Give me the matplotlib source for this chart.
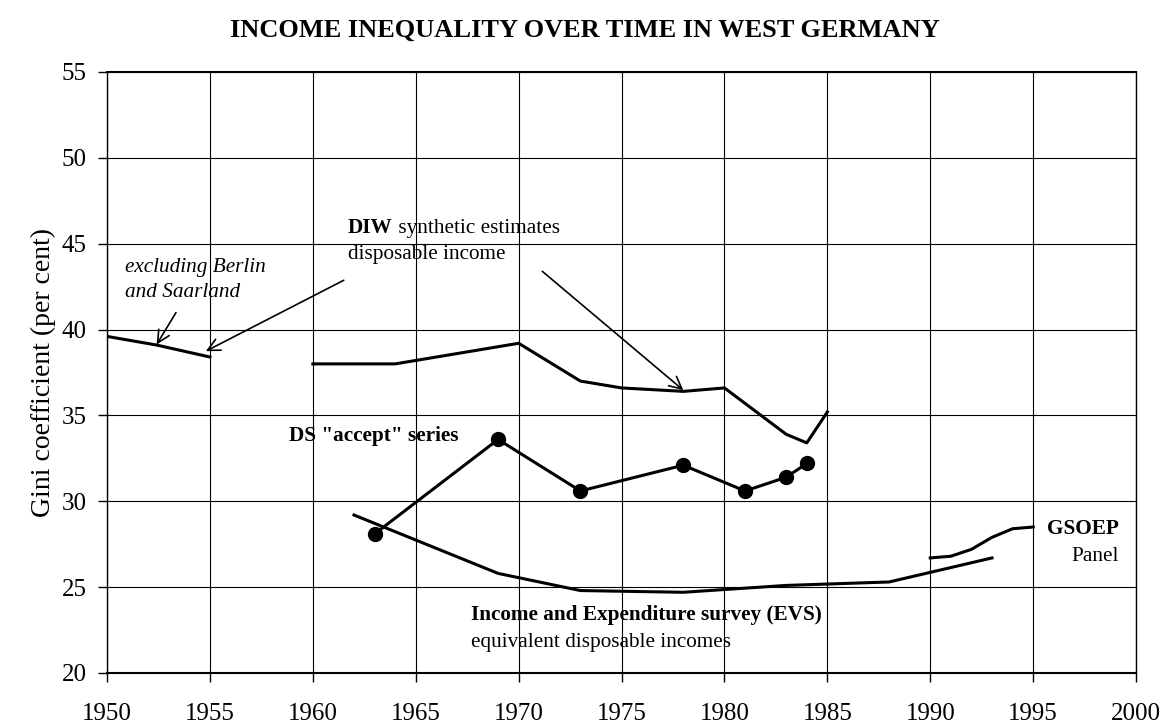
import matplotlib
matplotlib.use("Agg")
import matplotlib.pyplot as plt

plt.rcParams['font.family'] = ['Liberation Serif', 'DejaVu Serif']

# Data (Gini coefficient, per cent)
early_years = [1950, 1952.4, 1955]
early_gini = [39.6, 39.1, 38.4]

diw_years = [1960, 1964, 1968, 1970, 1973, 1975, 1978, 1980, 1983, 1984, 1985]
diw_gini = [38.0, 38.0, 38.8, 39.2, 37.0, 36.6, 36.4, 36.6, 33.9, 33.4, 35.2]

ds_years = [1963, 1969, 1973, 1978, 1981, 1983, 1984]
ds_gini = [28.1, 33.6, 30.6, 32.1, 30.6, 31.4, 32.2]

evs_years = [1962, 1969, 1973, 1978, 1983, 1988, 1993]
evs_gini = [29.2, 25.8, 24.8, 24.7, 25.1, 25.3, 26.7]

gsoep_years = [1990, 1991, 1992, 1993, 1994, 1995]
gsoep_gini = [26.7, 26.8, 27.2, 27.9, 28.4, 28.5]

x_ticks = list(range(1950, 2001, 5))
y_ticks = list(range(20, 56, 5))

fig = plt.figure(figsize=(11.7, 7.27), dpi=100)
ax = fig.add_axes([0.0915, 0.0743, 0.8795, 0.8267])

lw = 2.2
ax.plot(early_years, early_gini, color='black', lw=lw)
ax.plot(diw_years, diw_gini, color='black', lw=lw)
ax.plot(ds_years, ds_gini, color='black', lw=lw, marker='o', markersize=10)
ax.plot(evs_years, evs_gini, color='black', lw=lw)
ax.plot(gsoep_years, gsoep_gini, color='black', lw=lw)

ax.set_xlim(1950, 2000)
ax.set_ylim(20, 55)
ax.set_xticks(x_ticks)
ax.set_yticks(y_ticks)
ax.grid(True, color='black', lw=0.8)
ax.set_axisbelow(True)
for s in ax.spines.values():
    s.set_color('black')
    s.set_linewidth(1.0)
ax.spines['bottom'].set_linewidth(1.5)
ax.spines['top'].set_linewidth(1.5)
ax.tick_params(axis='both', direction='out', length=6.5, width=1.0, labelsize=18, colors='black')
ax.tick_params(axis='x', pad=15)
ax.tick_params(axis='y', pad=8)

ax.set_ylabel('Gini coefficient (per cent)', fontsize=20, labelpad=4)

fig.text(0.5, 0.959, 'INCOME INEQUALITY OVER TIME IN WEST GERMANY', ha='center', va='center',
         fontsize=19, fontweight='bold')

fs = 15.3
ax.text(1950.87, 42.88, 'excluding Berlin\nand Saarland', fontsize=fs, style='italic',
        ha='left', va='center', linespacing=1.45)
arrow = dict(arrowstyle='->', color='black', lw=1.2, mutation_scale=22, shrinkA=0, shrinkB=0)
ax.annotate('', xy=(1952.41, 39.13), xytext=(1953.35, 40.99), arrowprops=arrow)
ax.annotate('', xy=(1954.8, 38.74), xytext=(1961.5, 42.87), arrowprops=arrow)
ax.annotate('', xy=(1978.0, 36.47), xytext=(1971.15, 43.39), arrowprops=arrow)

diw = ax.text(1961.7, 45.93, 'DIW', fontsize=fs, fontweight='bold', ha='left', va='center')
ax.annotate(' synthetic estimates', xy=(1, 0), xycoords=diw, xytext=(0, 0),
            textcoords='offset points', fontsize=fs, ha='left', va='bottom')
ax.text(1961.7, 44.36, 'disposable income', fontsize=fs, ha='left', va='center')

ax.text(1958.83, 33.78, 'DS "accept" series', fontsize=fs, fontweight='bold', ha='left', va='center')

ax.text(1967.67, 23.39, 'Income and Expenditure survey (EVS)', fontsize=fs, fontweight='bold',
        ha='left', va='center')
ax.text(1967.67, 21.8, 'equivalent disposable incomes', fontsize=fs, ha='left', va='center')

ax.text(1999.17, 28.37, 'GSOEP', fontsize=fs, fontweight='bold', ha='right', va='center')
ax.text(1999.17, 26.8, 'Panel', fontsize=fs, ha='right', va='center')

fig.savefig('out.png', dpi=100)
